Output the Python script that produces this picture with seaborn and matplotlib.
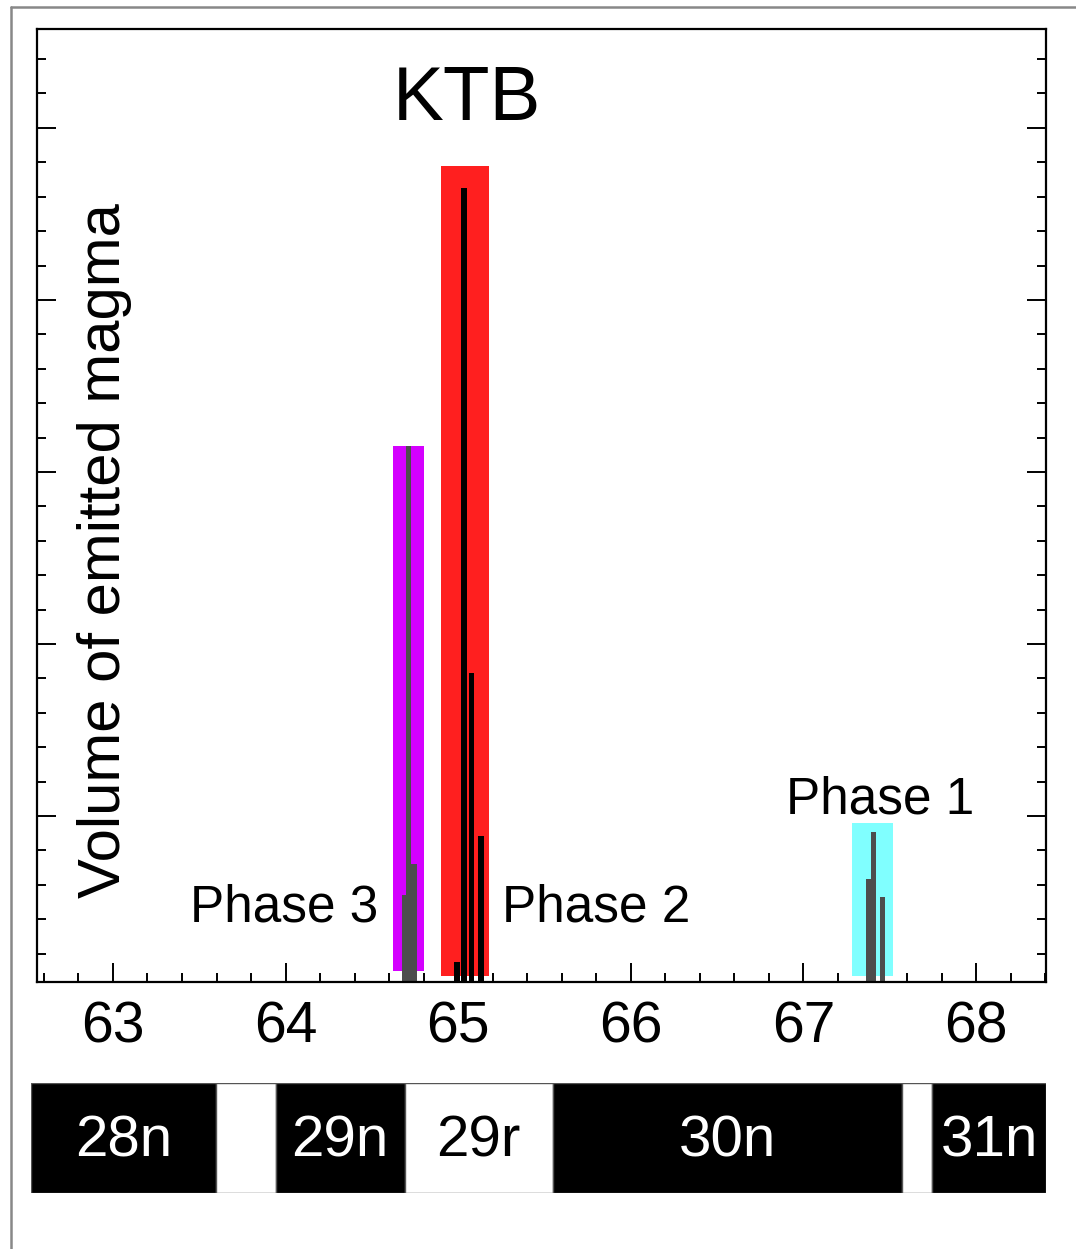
import matplotlib
matplotlib.use("Agg")
from matplotlib import pyplot as plt
from matplotlib.lines import Line2D
from matplotlib.ticker import MultipleLocator
import pandas as pd
import seaborn as sns

# eruptive phases (coloured envelopes), ages in Ma
phase_names = ["Phase 3", "Phase 2", "Phase 1"]
phase_start = [64.62, 64.90, 67.28]
phase_end = [64.80, 65.18, 67.52]
phase_base = [0.10, 0.07, 0.07]
phase_top = [3.15, 4.78, 0.96]
phase_colors = ["#d400ff", "#ff1f1f", "#80ffff"]

# individual pulses inside each phase
pulse_age = [64.688, 64.711, 64.745, 64.994, 65.034, 65.078, 65.131, 67.376, 67.405, 67.458]
pulse_volume = [0.54, 3.15, 0.72, 0.15, 4.65, 1.83, 0.885, 0.635, 0.908, 0.53]
pulse_phase = ["Phase 3"] * 3 + ["Phase 2"] * 4 + ["Phase 1"] * 3
pulse_colors = {"Phase 3": "#4d4d4d", "Phase 2": "#000000", "Phase 1": "#4d4d4d"}

# magnetic polarity chrons
chron_names = ["28n", "28r", "29n", "29r", "30n", "30r", "31n"]
chron_shown = [True, False, True, True, True, False, True]
chron_start = [62.525, 63.597, 63.944, 64.689, 65.547, 67.571, 67.745]
chron_end = [63.597, 63.944, 64.689, 65.547, 67.571, 67.745, 68.405]

age_ticks = [63, 64, 65, 66, 67, 68]

sns.set_theme(style="ticks")
plt.rcParams["font.family"] = ["Liberation Sans", "DejaVu Sans"]
plt.rcParams["text.color"] = "black"
plt.rcParams["xtick.labelcolor"] = "black"

phases = pd.DataFrame({"name": phase_names, "start": phase_start, "end": phase_end,
                       "base": phase_base, "top": phase_top, "color": phase_colors})
pulses = pd.DataFrame({"age": pulse_age, "volume": pulse_volume, "phase": pulse_phase})

fig = plt.figure(figsize=(10.76, 12.49), dpi=100)
ax = fig.add_axes([0.0344, 0.2138, 0.9377, 0.763])

for _, p in phases.iterrows():
    ax.bar((p.start + p.end) / 2, p.top - p.base, width=p.end - p.start, bottom=p.base,
           color=p.color, edgecolor="none", zorder=1)

for _, r in pulses.iterrows():
    ax.bar(r.age, r.volume, width=0.032, color=pulse_colors[r.phase], edgecolor="none", zorder=2)

ax.set_xlim(62.56, 68.405)
ax.set_ylim(0.035, 5.575)
ax.xaxis.set_minor_locator(MultipleLocator(0.2))
ax.yaxis.set_major_locator(MultipleLocator(1))
ax.yaxis.set_minor_locator(MultipleLocator(0.2))
ax.set_xticks(age_ticks)
ax.set_xticklabels([str(t) for t in age_ticks])
ax.tick_params(axis="x", which="both", direction="in", bottom=True, top=False,
               labelsize=41, pad=13, color="black", labelcolor="black")
ax.tick_params(axis="y", which="both", direction="in", left=True, right=True,
               labelleft=False, color="black")
ax.tick_params(which="major", length=14, width=1.4)
ax.tick_params(which="minor", length=6.5, width=1.4)
for s in ax.spines.values():
    s.set_linewidth(1.6)
    s.set_color("black")

ax.text(0.067, 0.453, "Volume of emitted magma", transform=ax.transAxes, rotation=90,
        ha="center", va="center", fontsize=43)
ax.text(65.05, 5.16, "KTB", ha="center", va="center", fontsize=55)
ax.text(64.535, 0.465, "Phase 3", ha="right", va="center", fontsize=37)
ax.text(65.254, 0.465, "Phase 2", ha="left", va="center", fontsize=37)
ax.text(66.899, 1.094, "Phase 1", ha="left", va="center", fontsize=37)

# polarity bar
cax = fig.add_axes([0.0288, 0.0448, 0.9433, 0.0881])
for name, shown, a, b in zip(chron_names, chron_shown, chron_start, chron_end):
    normal = name.endswith("n")
    cax.barh(0, b - a, left=a, height=1, color="black" if normal else "white",
             edgecolor="#555555", linewidth=1)
    if shown:
        cax.text((a + b) / 2, -0.03, name, ha="center", va="center", fontsize=42,
                 color="white" if normal else "black")
cax.set_xlim(62.525, 68.405)
cax.set_ylim(-0.5, 0.5)
cax.axis("off")

# outer frame of the panel
fig.add_artist(Line2D([11 / 1076, 11 / 1076], [0, 1 - 7 / 1249], color="#888888", lw=1.8))
fig.add_artist(Line2D([11 / 1076, 1], [1 - 7 / 1249, 1 - 7 / 1249], color="#888888", lw=1.8))

fig.savefig("out.png", dpi=100)
